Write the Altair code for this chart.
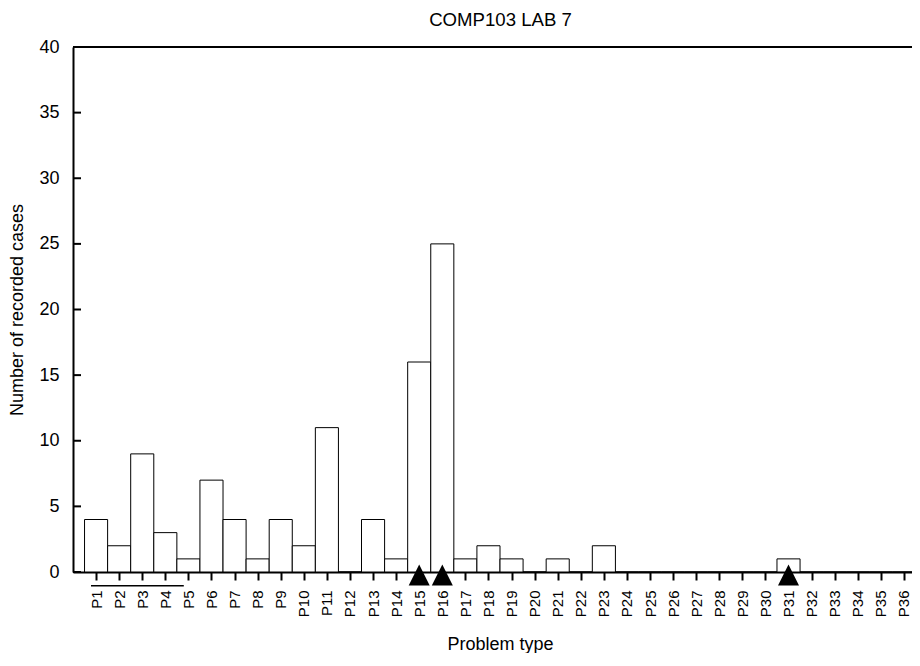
import json
import altair as alt
import pandas as pd

# ---- data ----
labels = ["P1", "P2", "P3", "P4", "P5", "P6", "P7", "P8", "P9", "P10",
          "P11", "P12", "P13", "P14", "P15", "P16", "P17", "P18", "P19", "P20",
          "P21", "P22", "P23", "P24", "P25", "P26", "P27", "P28", "P29", "P30",
          "P31", "P32", "P33", "P34", "P35", "P36"]
counts = [4, 2, 9, 3, 1, 7, 4, 1, 4, 2,
          11, 0, 4, 1, 16, 25, 1, 2, 1, 0,
          1, 0, 2, 0, 0, 0, 0, 0, 0, 0,
          1, 0, 0, 0, 0, 0]
marked = [15, 16, 31]            # problem numbers marked with a triangle
bracket_from = [0.78]            # line under P1..P5
bracket_to = [4.8]
bracket_level = [-1.04]
y_ticks = [0, 5, 10, 15, 20, 25, 30, 35, 40]

FONT = "Liberation Sans"
W, H = 839, 525
XMAX = 36.35

positions = list(range(1, len(labels) + 1))
bars_df = pd.DataFrame({"pos": positions, "label": labels, "count": counts})
bars_df["x0"] = bars_df["pos"] - 0.5
bars_df["x1"] = bars_df["pos"] + 0.5
bars_df["base"] = 0

xscale = alt.Scale(domain=[0, XMAX], nice=False, zero=False)
yscale = alt.Scale(domain=[0, 40], nice=False)

label_expr = json.dumps(labels) + "[datum.value - 1]"

xaxis = alt.Axis(values=positions, labelExpr=label_expr,
                 title="Problem type", labelAngle=270,
                 labelAlign="right", labelBaseline="middle",
                 labelOverlap=False, labelBound=False, labelFlush=False,
                 tickSize=8, tickWidth=2, tickColor="black",
                 domain=True, domainWidth=2, domainColor="black",
                 grid=False, labelPadding=10, labelFontSize=15,
                 titleBaseline="alphabetic", titleY=77, titleX=427)
yaxis = alt.Axis(values=y_ticks, title="Number of recorded cases",
                 ticks=False, tickSize=0,
                 domain=True, domainWidth=2, domainColor="black",
                 grid=False, labelPadding=14, labelFontSize=18,
                 titlePadding=12)

bars = alt.Chart(bars_df).mark_bar(
    fill="white", stroke="black", strokeWidth=1, clip=False
).encode(
    x=alt.X("x0:Q", scale=xscale, axis=xaxis),
    x2="x1:Q",
    y=alt.Y("count:Q", scale=yscale, axis=yaxis),
    y2="base:Q",
)

ticks_df = pd.DataFrame({"v": y_ticks})
left_ticks = alt.Chart(ticks_df).mark_rule(color="black", strokeWidth=2).encode(
    y=alt.Y("v:Q", scale=yscale, axis=yaxis), x=alt.value(0), x2=alt.value(8)
)
top_df = pd.DataFrame({"v": [40]})
top_line = alt.Chart(top_df).mark_rule(color="black", strokeWidth=2).encode(
    y=alt.Y("v:Q", scale=yscale, axis=yaxis), x=alt.value(0), x2=alt.value(W)
)

tri_df = pd.DataFrame({"pos": marked, "zero": [0] * len(marked)})
triangles = alt.Chart(tri_df).mark_point(
    shape="M0,-1L-1,1L1,1Z", filled=True, color="black", opacity=1,
    size=441, yOffset=3, clip=False
).encode(
    x=alt.X("pos:Q", scale=xscale, axis=xaxis),
    y=alt.Y("zero:Q", scale=yscale, axis=yaxis)
)

br_df = pd.DataFrame({"a": bracket_from, "b": bracket_to, "lvl": bracket_level})
bracket = alt.Chart(br_df).mark_rule(color="black", strokeWidth=1.5, clip=False).encode(
    x=alt.X("a:Q", scale=xscale, axis=xaxis), x2="b:Q",
    y=alt.Y("lvl:Q", scale=yscale, axis=yaxis)
)

chart = alt.layer(bars, left_ticks, top_line, bracket, triangles).properties(
    width=W, height=H,
    title=alt.TitleParams("COMP103 LAB 7", fontSize=18.6, fontWeight="normal",
                          font=FONT, offset=8, anchor="middle", color="black",
                          dx=8),
    autosize=alt.AutoSizeParams(type="none"),
    padding={"left": 65, "top": 39, "right": 0, "bottom": 81},
).configure_view(
    stroke=None
).configure_axis(
    labelFont=FONT, titleFont=FONT, titleFontSize=18, titleFontWeight="normal",
    labelColor="black", titleColor="black"
).configure_axisX(
    labelOverlap=False
)

chart.save("out.html", embed_options={"renderer": "svg", "actions": False})
